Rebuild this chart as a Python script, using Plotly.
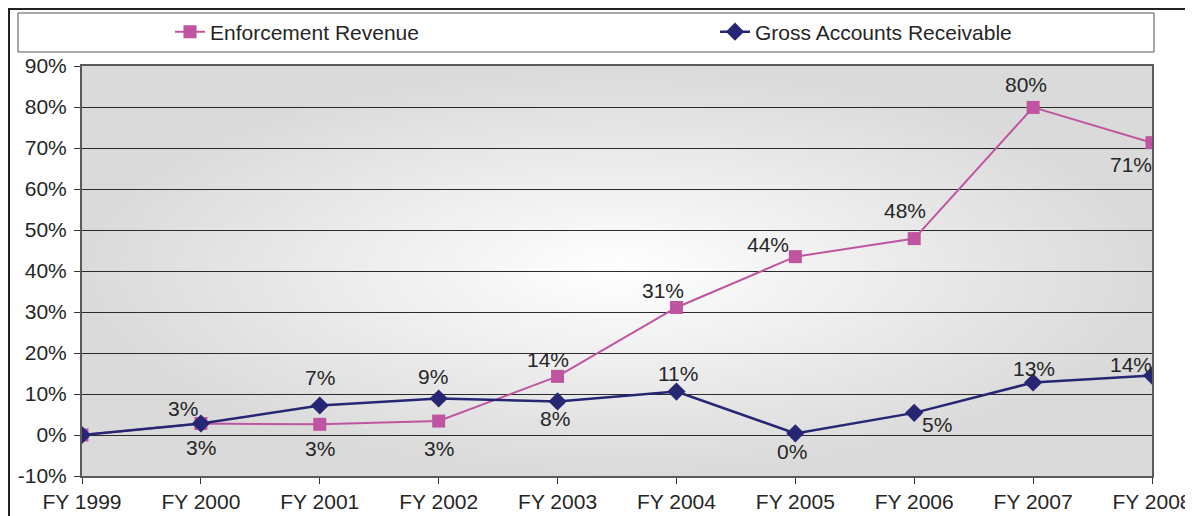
import base64
import math
import struct
import zlib

import plotly.graph_objects as go

# Values (percent change since FY 1999)
years = ["FY 1999", "FY 2000", "FY 2001", "FY 2002", "FY 2003",
         "FY 2004", "FY 2005", "FY 2006", "FY 2007", "FY 2008"]
enforcement = [0.0, 2.8, 2.6, 3.4, 14.3, 31.1, 43.5, 47.9, 79.9, 71.3]
receivable = [0.0, 2.8, 7.2, 8.9, 8.2, 10.6, 0.4, 5.4, 12.8, 14.5]
y_ticks = [-10, 0, 10, 20, 30, 40, 50, 60, 70, 80, 90]
y_tick_labels = ["-10%", "0%", "10%", "20%", "30%", "40%", "50%", "60%", "70%", "80%", "90%"]

# pixel offsets of each data label from its point (FY 1999 has none)
enf_label_shift = [None, (0, -24), (0, -24), (0, -27), (-10, 17),
                   (-13, 17), (-27, 12), (-9, 28), (-7, 23), (-21, -22)]
rec_label_shift = [None, (-18, 15), (0, 28), (-6, 22), (-3, -17),
                   (2, 18), (-3, -18), (23, -12), (1, 14), (-21, 11)]

PINK = "#BF55A0"
NAVY = "#262673"
TEXT = "#262626"
FS = 21

# figure geometry in pixels (the page puts the figure 8px in from the corner)
W, H = 1185, 508
L, R, T, B = 74, 1144, 58, 468


def px(x):
    return (x - L) / (R - L)


def py(y):
    return (B - y) / (B - T)


def radial_png(w, h, edge=218):
    # white centre fading to grey, like the old Excel "from centre" fill
    raw = bytearray()
    for j in range(h):
        raw.append(0)
        dy = (j + 0.5 - h / 2) / (h / 2)
        for i in range(w):
            dx = (i + 0.5 - w / 2) / (w / 2)
            t = min(1.0, math.sqrt(dx * dx + dy * dy))
            c = int(round(255 - (255 - edge) * t))
            raw += bytes((c, c, c))

    def chunk(tag, data):
        return (struct.pack(">I", len(data)) + tag + data
                + struct.pack(">I", zlib.crc32(tag + data) & 0xFFFFFFFF))

    png = b"\x89PNG\r\n\x1a\n"
    png += chunk(b"IHDR", struct.pack(">IIBBBBB", w, h, 8, 2, 0, 0, 0))
    png += chunk(b"IDAT", zlib.compress(bytes(raw), 9))
    png += chunk(b"IEND", b"")
    return "data:image/png;base64," + base64.b64encode(png).decode()


fig = go.Figure()

fig.add_trace(go.Scatter(
    x=years, y=enforcement, mode="lines+markers", name="Enforcement Revenue",
    line=dict(color=PINK, width=2),
    marker=dict(symbol="square", size=13, color=PINK),
    legend="legend2",
))
fig.add_trace(go.Scatter(
    x=years, y=receivable, mode="lines+markers", name="Gross Accounts Receivable",
    line=dict(color=NAVY, width=2.5),
    marker=dict(symbol="diamond", size=14, color=NAVY),
    legend="legend3",
))

# data labels
for vals, shifts in [(enforcement, enf_label_shift), (receivable, rec_label_shift)]:
    for yr, v, s in zip(years, vals, shifts):
        if s is None:
            continue
        fig.add_annotation(
            x=yr, y=v, text=f"{v:.0f}%", showarrow=False,
            xshift=s[0], yshift=s[1], xanchor="center", yanchor="middle",
            font=dict(size=FS, color=TEXT),
        )

fig.update_xaxes(
    type="category", range=[0, len(years) - 1], automargin=False,
    showline=True, linecolor="#5a5a5a", linewidth=2, mirror=True,
    ticks="outside", ticklen=6, tickcolor="#333", tickwidth=1,
    showgrid=False, tickfont=dict(size=FS, color=TEXT),
)
fig.update_yaxes(
    range=[-10, 90], tickvals=y_ticks, ticktext=y_tick_labels, automargin=False,
    showline=True, linecolor="#5a5a5a", linewidth=2, mirror=True,
    ticks="outside", ticklen=6, tickcolor="#333", tickwidth=1, ticklabelstandoff=3,
    showgrid=True, gridcolor="#2b2b2b", gridwidth=1, zeroline=False,
    tickfont=dict(size=FS, color=TEXT),
)

# outer chart frame and the long legend box
fig.add_shape(type="rect", xref="paper", yref="paper",
              x0=px(1), x1=px(1210), y0=py(530), y1=py(1),
              line=dict(color="#222", width=2), layer="above")
fig.add_shape(type="rect", xref="paper", yref="paper",
              x0=px(10), x1=px(1146), y0=py(44), y1=py(5),
              line=dict(color="#555", width=1), fillcolor="white", layer="below")

fig.add_layout_image(dict(
    source=radial_png(535, 205), xref="paper", yref="paper",
    x=0, y=1, sizex=1, sizey=1, sizing="stretch", layer="below",
))

legend_style = dict(orientation="h", yanchor="middle", xanchor="left",
                    xref="container", yref="container",
                    bgcolor="rgba(0,0,0,0)", font=dict(size=FS, color=TEXT))

fig.update_layout(
    width=W, height=H,
    margin=dict(l=L, r=W - R, t=T, b=H - B, autoexpand=False),
    paper_bgcolor="white", plot_bgcolor="#dadada",
    font=dict(family="Liberation Sans, Arial, sans-serif", color=TEXT),
    showlegend=True,
    legend2=dict(x=162 / W, y=1 - 24 / H, **legend_style),
    legend3=dict(x=707 / W, y=1 - 24 / H, **legend_style),
    hovermode=False,
)

fig.write_html("out.html")
